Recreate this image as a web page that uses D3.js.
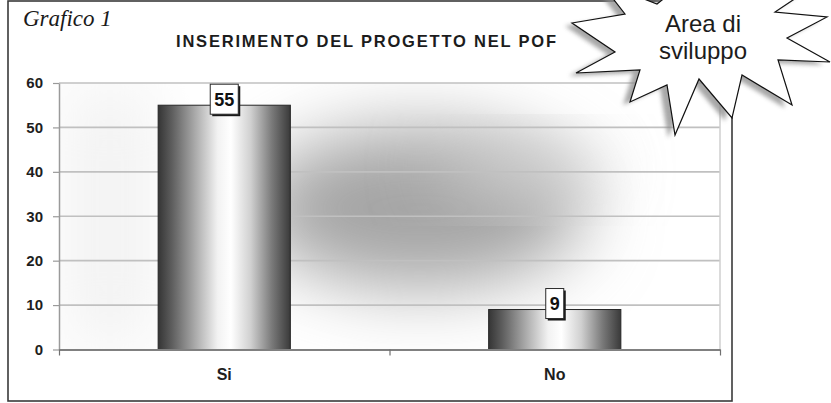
<!DOCTYPE html>
<html>
<head>
<meta charset="utf-8">
<script src="https://cdn.jsdelivr.net/npm/d3@7/dist/d3.min.js"></script>
<style>
  html, body { margin: 0; padding: 0; background: #ffffff; }
  svg { display: block; }
</style>
</head>
<body>
<svg id="chart" width="831" height="403"></svg>
<script>
// Project inclusion in the POF: answers by category
const categories = ["Si", "No"];
const values = [55, 9];
const yTicks = [0, 10, 20, 30, 40, 50, 60];
const chartTitle = "INSERIMENTO DEL PROGETTO NEL POF";
const figureLabel = "Grafico 1";
const badgeLines = ["Area di", "sviluppo"];

const W = 831, H = 403;
const plot = { left: 59, right: 720, top: 83, bottom: 349.5 };

const svg = d3.select("#chart");
const defs = svg.append("defs");

// cylinder-like shading for the bars
const barGrad = defs.append("linearGradient").attr("id", "barGrad")
  .attr("x1", "0%").attr("x2", "100%").attr("y1", "0%").attr("y2", "0%");
[[0, "#353535"], [0.1, "#5c5c5c"], [0.28, "#aaaaaa"], [0.45, "#f2f2f2"], [0.55, "#ffffff"],
 [0.7, "#d0d0d0"], [0.86, "#7a7a7a"], [1, "#3a3a3a"]]
  .forEach(([o, c]) => barGrad.append("stop").attr("offset", o).attr("stop-color", c));

// soft haze behind the plot
defs.append("filter").attr("id", "haze").attr("x", "-50%").attr("y", "-50%")
  .attr("width", "200%").attr("height", "200%")
  .append("feGaussianBlur").attr("stdDeviation", 36);
defs.append("filter").attr("id", "soft").attr("x", "-20%").attr("y", "-20%")
  .attr("width", "140%").attr("height", "140%")
  .append("feGaussianBlur").attr("stdDeviation", 2.2);
defs.append("clipPath").attr("id", "plotClip").append("rect")
  .attr("x", plot.left).attr("y", plot.top)
  .attr("width", plot.right - plot.left).attr("height", plot.bottom - plot.top);

const y = d3.scaleLinear().domain([0, 60]).range([plot.bottom, plot.top]);
const x = d3.scaleBand().domain(categories).range([plot.left, plot.right])
  .paddingInner(0.6).paddingOuter(0.3);
const xEdges = d3.scaleLinear().domain([0, categories.length]).range([plot.left, plot.right]);

// outer frame
svg.append("rect").attr("x", 8).attr("y", 1).attr("width", 724).attr("height", 400)
  .attr("fill", "none").attr("stroke", "#3a3a3a").attr("stroke-width", 1.6);

// plot background haze
const bg = svg.append("g").attr("clip-path", "url(#plotClip)");
bg.append("ellipse").attr("cx", 420).attr("cy", 208).attr("rx", 165).attr("ry", 80)
  .attr("fill", "#a4a4a4").attr("filter", "url(#haze)");
bg.append("ellipse").attr("cx", 520).attr("cy", 170).attr("rx", 80).attr("ry", 28)
  .attr("fill", "#d0d0d0").attr("filter", "url(#haze)");
bg.append("rect").attr("x", 70).attr("y", plot.top).attr("width", 80).attr("height", plot.bottom - plot.top)
  .attr("fill", "#f0f0f0").attr("filter", "url(#haze)");

// gridlines
svg.append("g").selectAll("line").data(yTicks.filter(d => d > 0)).join("line")
  .attr("x1", plot.left).attr("x2", plot.right)
  .attr("y1", d => y(d)).attr("y2", d => y(d))
  .attr("stroke", "#c0c0c0").attr("stroke-width", 1.7);
svg.append("line").attr("x1", plot.right).attr("x2", plot.right)
  .attr("y1", plot.top).attr("y2", plot.bottom)
  .attr("stroke", "#cfcfcf").attr("stroke-width", 1.5);

// y axis
const yAxis = svg.append("g").attr("transform", `translate(${plot.left},0)`)
  .call(d3.axisLeft(y).tickValues(yTicks).tickSize(6).tickPadding(10).tickSizeOuter(0));
yAxis.select(".domain").attr("stroke", "#9a9a9a").attr("stroke-width", 1.5);
yAxis.selectAll(".tick line").attr("stroke", "#9a9a9a").attr("stroke-width", 1.2);
yAxis.selectAll(".tick text").attr("fill", "#1e1e1e")
  .style("font-family", "Arial, 'Liberation Sans', sans-serif")
  .style("font-weight", "bold").style("font-size", "15px");

// bars
svg.append("g").selectAll("rect").data(values).join("rect")
  .attr("x", (d, i) => x(categories[i]))
  .attr("y", d => y(d))
  .attr("width", x.bandwidth())
  .attr("height", d => y(0) - y(d))
  .attr("fill", "url(#barGrad)")
  .attr("stroke", "#262626").attr("stroke-width", 1);

// x axis: tick marks at category boundaries, labels centred on bars
const xTickAxis = svg.append("g").attr("transform", `translate(0,${plot.bottom})`)
  .call(d3.axisBottom(xEdges).tickValues(d3.range(categories.length + 1))
    .tickFormat("").tickSize(6).tickSizeOuter(0));
xTickAxis.select(".domain").attr("stroke", "#808080").attr("stroke-width", 2);
xTickAxis.selectAll(".tick line").attr("stroke", "#707070").attr("stroke-width", 1.2);

const xLabelAxis = svg.append("g").attr("transform", `translate(0,${plot.bottom})`)
  .call(d3.axisBottom(x).tickSize(0).tickPadding(19));
xLabelAxis.select(".domain").remove();
xLabelAxis.selectAll(".tick text").attr("fill", "#1e1e1e")
  .style("font-family", "Arial, 'Liberation Sans', sans-serif")
  .style("font-weight", "bold").style("font-size", "16px");

// value labels in boxed callouts
const lab = svg.append("g").selectAll("g").data(values).join("g")
  .attr("transform", (d, i) => `translate(${x(categories[i]) + x.bandwidth() / 2},${y(d) - 6})`);
lab.each(function (d) {
  const g = d3.select(this);
  const t = g.append("text").text(d)
    .attr("text-anchor", "middle").attr("dy", "0.36em")
    .style("font-family", "Arial, 'Liberation Sans', sans-serif")
    .style("font-weight", "bold").style("font-size", "18px").attr("fill", "#111");
  const w = t.node().getComputedTextLength() + 8, h = 30;
  g.insert("rect", "text").attr("x", -w / 2 + 2).attr("y", -h / 2 + 2)
    .attr("width", w).attr("height", h).attr("fill", "#1a1a1a");
  g.insert("rect", "text").attr("x", -w / 2).attr("y", -h / 2)
    .attr("width", w).attr("height", h).attr("fill", "#ffffff")
    .attr("stroke", "#2a2a2a").attr("stroke-width", 1);
});

// title and figure label
svg.append("text").text(chartTitle)
  .attr("x", 176).attr("y", 47).attr("textLength", 380).attr("lengthAdjust", "spacing")
  .style("font-family", "Arial, 'Liberation Sans', sans-serif")
  .style("font-weight", "bold").style("font-size", "16.5px").attr("fill", "#1c1c1c");

svg.append("text").text(figureLabel)
  .attr("x", 23).attr("y", 26)
  .style("font-family", "'Liberation Serif', 'Times New Roman', serif")
  .style("font-style", "italic").style("font-size", "23px").attr("fill", "#1a1a1a");

// starburst badge
const star = [
  [572, 23], [625, 14], [600, -18], [657, 4], [700, -30], [742, -4], [808, -10],
  [775, 12], [827, 17], [787, 38], [830, 62], [778, 60], [792, 105], [742, 75],
  [732, 118], [699, 79], [675, 135], [667, 85], [630, 102], [640, 70], [576, 73],
  [615, 52]
];
const starLine = d3.line().curve(d3.curveLinearClosed);
const badge = svg.append("g");
badge.append("path").attr("d", starLine(star))
  .attr("transform", "translate(-7,3)")
  .attr("fill", "#8a8a8a").attr("opacity", 0.75).attr("filter", "url(#soft)");
badge.append("path").attr("d", starLine(star))
  .attr("fill", "#ffffff").attr("stroke", "#111").attr("stroke-width", 1.2)
  .attr("stroke-linejoin", "miter");
badge.selectAll("text").data(badgeLines).join("text")
  .text(d => d)
  .attr("x", 703).attr("y", (d, i) => 32 + i * 27)
  .attr("text-anchor", "middle")
  .style("font-family", "Arial, 'Liberation Sans', sans-serif")
  .style("font-size", "24px").attr("fill", "#1c1c1c");
</script>
</body>
</html>
